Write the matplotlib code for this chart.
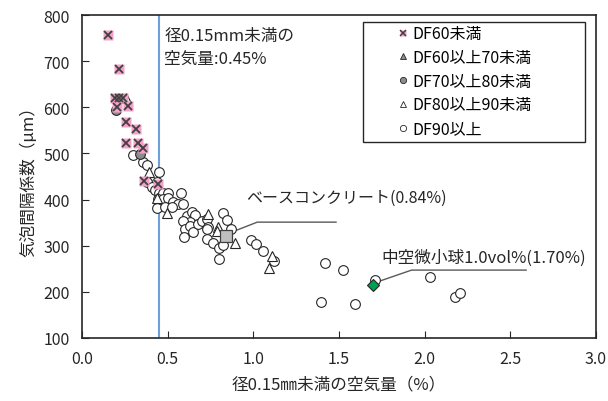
import matplotlib
matplotlib.use("Agg")
import matplotlib.pyplot as plt
import matplotlib.patches as patches
from matplotlib.lines import Line2D

plt.rcParams['font.family'] = ['Noto Sans CJK JP', 'DejaVu Sans']

# DF60未満
df60_x = [0.15, 0.215, 0.19, 0.215, 0.238, 0.203, 0.267, 0.256, 0.314, 0.256, 0.326, 0.355, 0.36, 0.442]
df60_y = [757, 683, 620, 620, 620, 601, 603, 568, 553, 523, 523, 512, 440, 434]
# DF60以上70未満 (none visible)
df60_70_x = []
df60_70_y = []
# DF70以上80未満
df70_80_x = [0.198, 0.337]
df70_80_y = [594, 499]
# DF80以上90未満
df80_90_x = [0.256, 0.39, 0.436, 0.494, 0.733, 0.791, 0.785, 0.895, 1.11, 1.093]
df80_90_y = [620, 460, 403, 371, 369, 341, 332, 306, 278, 252]
# DF90以上
df90_x = [0.297, 0.355, 0.378, 0.448, 0.378, 0.436, 0.407, 0.424, 0.448, 0.471,
          0.5, 0.576, 0.442, 0.471, 0.5, 0.529, 0.558, 0.587, 0.436, 0.483,
          0.523, 0.61, 0.64, 0.657, 0.628, 0.587, 0.599, 0.628, 0.645, 0.593,
          0.674, 0.703, 0.727, 0.738, 0.727, 0.82, 0.849, 0.872, 0.727, 0.762,
          0.802, 0.82, 0.797, 0.988, 1.017, 1.058, 1.122, 1.419, 1.523, 1.395,
          1.593, 1.709, 2.029, 2.18, 2.209]
df90_y = [497, 481, 475, 460, 438, 438, 427, 421, 414, 414,
          414, 414, 401, 401, 403, 395, 390, 390, 382, 384,
          384, 364, 373, 367, 351, 354, 336, 343, 330, 319,
          347, 354, 358, 341, 336, 371, 356, 336, 314, 306,
          295, 301, 271, 312, 304, 289, 267, 262, 247, 178,
          174, 226, 232, 189, 197]
# special points
base_x, base_y = 0.84, 321
hollow_x, hollow_y = 1.70, 215
limit_air = 0.45

fig = plt.figure(figsize=(6.08, 4.02), dpi=100)
ax = fig.add_axes([0.135, 0.157, 0.845, 0.803])

ax.axvline(limit_air, color='#6f9fd8', lw=1.5, zorder=1)

ax.plot(df90_x, df90_y, 'o', ms=7, mfc='white', mec='#262626', mew=0.8, ls='none', zorder=3)
ax.plot(df80_90_x, df80_90_y, '^', ms=7, mfc='white', mec='#262626', mew=0.8, ls='none', zorder=3)
ax.plot(df70_80_x, df70_80_y, 'o', ms=7, mfc='#8c8c8c', mec='#262626', mew=0.8, ls='none', zorder=4)
ax.plot(df60_70_x, df60_70_y, '^', ms=7, mfc='#8c8c8c', mec='#262626', mew=0.8, ls='none', zorder=4)
ax.plot(df60_x, df60_y, 's', ms=7.5, mfc='#f4a0c8', mec='none', ls='none', zorder=5)
ax.plot(df60_x, df60_y, 'x', ms=6, mec='#404040', mew=1.3, ls='none', zorder=6)

ax.plot([base_x], [base_y], 's', ms=9, mfc='#bfbfbf', mec='#404040', mew=0.9, zorder=7)
ax.plot([hollow_x], [hollow_y], 'D', ms=6.5, mfc='#00a050', mec='#262626', mew=0.8, zorder=7)

# annotation leader lines
ax.plot([0.878, 1.023, 1.483], [330, 351, 351], color='#595959', lw=1, zorder=2)
ax.plot([1.721, 1.924, 2.593], [221, 247, 247], color='#595959', lw=1, zorder=2)
ax.text(0.96, 405, 'ベースコンクリート(0.84%)', fontsize=11.5, va='center', ha='left', color='#262626')
ax.text(1.75, 275, '中空微小球1.0vol%(1.70%)', fontsize=12, va='center', ha='left', color='#262626')
ax.text(0.48, 775, '径0.15mm未満の\n空気量:0.45%', fontsize=12, va='top', ha='left',
        color='#262626', linespacing=1.45)

ax.set_xlim(0, 3.0)
ax.set_ylim(100, 800)
ax.set_xticks([0, 0.5, 1.0, 1.5, 2.0, 2.5, 3.0])
ax.set_xticklabels(['0.0', '0.5', '1.0', '1.5', '2.0', '2.5', '3.0'])
ax.set_yticks(range(100, 801, 100))
ax.tick_params(direction='in', length=5, labelsize=11.5, colors='#262626', pad=9)
for s in ax.spines.values():
    s.set_color('#262626')
    s.set_linewidth(1.2)

ax.set_xlabel('径0.15㎜未満の空気量（%）', fontsize=12, color='#262626', labelpad=6)
ax.set_ylabel('気泡間隔係数（μm）', fontsize=12, color='#262626')

# legend box
ax.add_patch(patches.Rectangle((0.547, 0.607), 0.432, 0.371, transform=ax.transAxes,
                               fill=False, ec='#262626', lw=1, zorder=8))
pink_bg = Line2D([], [], marker='s', ms=5, mfc='#f4a0c8', mec='none', ls='none')
pink_x = Line2D([], [], marker='x', ms=4, mec='#404040', mew=1.1, ls='none')
handles = [
    (pink_bg, pink_x),
    Line2D([], [], marker='^', ms=4.5, mfc='#8c8c8c', mec='#262626', mew=0.6, ls='none'),
    Line2D([], [], marker='o', ms=4.5, mfc='#8c8c8c', mec='#262626', mew=0.6, ls='none'),
    Line2D([], [], marker='^', ms=4.5, mfc='white', mec='#262626', mew=0.6, ls='none'),
    Line2D([], [], marker='o', ms=4.5, mfc='white', mec='#262626', mew=0.6, ls='none'),
]
labels = ['DF60未満', 'DF60以上70未満', 'DF70以上80未満', 'DF80以上90未満', 'DF90以上']
ax.legend(handles, labels, loc='upper left', bbox_to_anchor=(0.6, 0.993), frameon=False,
          fontsize=11.5, handlelength=0.6, handletextpad=0.3, borderpad=0, labelspacing=0.42)

fig.savefig('out.png', dpi=100)
